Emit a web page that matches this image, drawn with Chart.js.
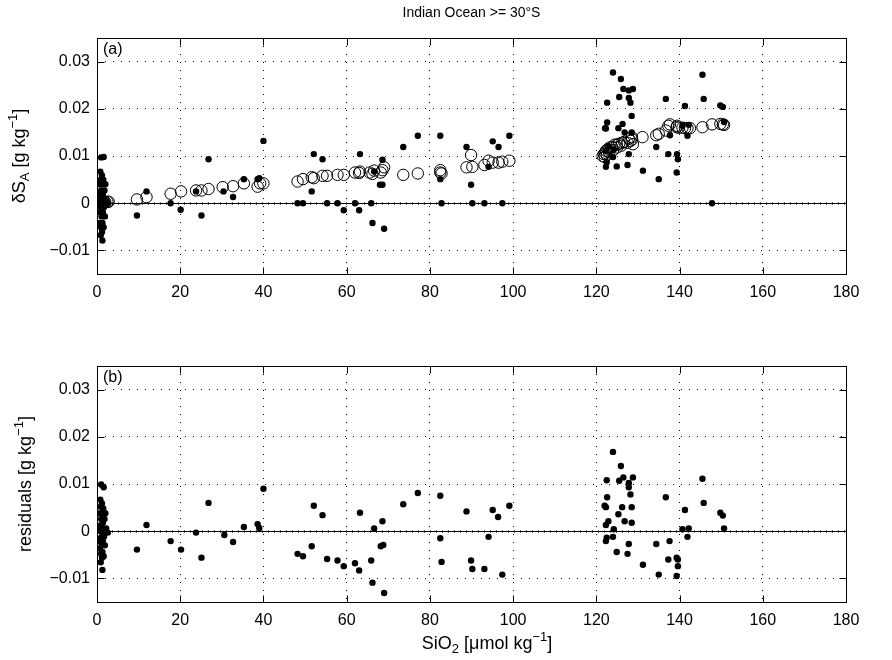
<!DOCTYPE html>
<html><head><meta charset="utf-8">
<script src="https://cdn.jsdelivr.net/npm/chart.js@4.4.1/dist/chart.umd.min.js"></script>
<style>
html,body{margin:0;padding:0;background:#fff;}
#wrap{position:relative;width:892px;height:660px;background:#fff;}
canvas{position:absolute;left:0;}
</style></head><body>
<div id="wrap">
<canvas id="c1" width="892" height="310" style="top:0px"></canvas>
<canvas id="c2" width="892" height="350" style="top:310px"></canvas>
</div>
<script>
// ---------- data ----------
const xTicks = [0, 20, 40, 60, 80, 100, 120, 140, 160, 180];
const yTicks = [-0.01, 0, 0.01, 0.02, 0.03];
const titleText = "Indian Ocean >= 30°S";

// measured δSA (filled dots, panel a)
const measX = [1.0,1.6,0.8,1.2,0.9,1.5,0.7,1.3,2.0,1.0,1.8,0.8,1.4,1.1,2.2,0.6,1.2,1.9,2.6,1.0,1.7,0.8,1.4,1.1,1.9,0.7,1.3,1.0,1.6,1.2,0.9,1.3,
  9.6,11.9,17.7,20.1,23.8,25.1,26.8,30.4,32.7,35.3,38.6,39.0,40.0,48.2,49.5,51.6,52.1,54.2,55.3,57.8,59.3,62.0,63.2,63.0,65.9,66.2,66.6,68.0,68.6,68.6,69.0,73.6,77.1,82.5,82.8,82.5,88.8,89.9,90.2,93.1,94.1,95.1,96.5,97.4,99.1,
  124.0,125.9,126.5,127.8,128.8,122.6,125.5,127.8,128.2,128.5,122.6,122.1,122.3,125.3,126.3,128.5,122.3,124.9,127.5,127.8,131.2,134.4,135.0,136.7,137.3,137.7,139.4,139.6,139.3,141.3,141.9,145.5,145.8,149.8,150.4,147.8,
  122.3,124.2,122.9,126.8,122.5,124.0,140.7,142.2,150.7];
const measY = [0.0097,0.0098,0.0067,0.0059,0.0050,0.0050,0.0040,0.0040,0.0040,0.0027,0.0027,0.0018,0.0018,0.0009,0.0009,0,0,0,0,-0.0008,-0.0008,-0.0019,-0.0019,-0.0028,-0.0028,-0.0042,-0.0042,-0.0051,-0.0051,-0.0061,-0.0068,-0.0079,
  -0.0026,0.0025,0,-0.0014,0.0025,-0.0026,0.0093,0.0025,0.0013,0.0051,0.0051,0.0053,0.0132,0,0,0.0025,0.0104,0.0093,0,0,-0.0015,0,0.0104,-0.0015,0,-0.0042,0.0067,0.0039,0.0039,0.0092,-0.0054,0.0119,0.0143,0.0143,0,0.0051,0.0119,0.0039,0,0,0.0077,0.0131,0.0119,0,0.0143,
  0.0277,0.0263,0.0242,0.0239,0.0242,0.0213,0.0225,0.0223,0.0213,0.0185,0.0171,0.0159,0.0158,0.0159,0.0168,0.0150,0.0077,0.0078,0.0081,0.0104,0.0069,0.0119,0.0051,0.0221,0.0104,0.0144,0.0104,0.0093,0.0065,0.0206,0.0143,0.0272,0.0221,0.0207,0.0204,0,
  0.0111,0.0114,0.0121,0.0150,0.0087,0.0098,0.0164,0.0166,0.0172];

// fitted δSA (open circles, panel a)
const fitX = [0.3,0.5,0.8,1.0,1.2,1.5,1.8,2.0,2.5,2.8,
  9.6,11.9,17.7,20.2,23.8,25.1,26.8,30.2,32.7,35.3,38.6,39.2,40.0,48.2,49.5,51.6,52.1,54.2,55.3,57.8,59.3,62.0,63.2,63.0,65.5,66.2,66.6,68.2,68.6,69.0,73.6,77.1,82.5,82.5,82.8,88.8,89.9,90.2,93.1,94.1,95.1,96.5,97.4,99.1,
  121.5,121.8,122.1,122.3,122.7,123.2,123.8,124.4,124.9,125.5,126.2,126.7,127.5,128.2,128.6,128.8,122.0,122.5,123.0,124.0,125.0,126.0,127.8,128.5,131.1,134.4,135.0,136.7,137.3,137.7,139.3,139.4,139.8,140.7,141.3,141.9,142.5,145.5,147.8,149.8,150.4,150.7];
const fitY = [0,0.0001,0.0002,0.0002,0,0.0001,0.0001,0.0002,0.0003,0.0003,
  0.0008,0.0013,0.0020,0.0025,0.0027,0.0027,0.0030,0.0034,0.0036,0.0042,0.0035,0.0042,0.0042,0.0046,0.0051,0.0055,0.0053,0.0058,0.0058,0.0060,0.0060,0.0065,0.0067,0.0064,0.0065,0.0062,0.0069,0.0065,0.0070,0.0076,0.0060,0.0063,0.0070,0.0065,0.0063,0.0076,0.0102,0.0077,0.0081,0.0090,0.0086,0.0086,0.0088,0.0090,
  0.0100,0.0104,0.0107,0.0111,0.0114,0.0118,0.0119,0.0124,0.0124,0.0126,0.0128,0.0130,0.0128,0.0132,0.0135,0.0125,0.0098,0.0102,0.0108,0.0112,0.0118,0.0122,0.0137,0.0140,0.0140,0.0144,0.0147,0.0154,0.0164,0.0167,0.0161,0.0164,0.0160,0.0160,0.0159,0.0159,0.0159,0.0161,0.0167,0.0168,0.0167,0.0166];

// residuals (filled dots, panel b)
const resX = [1.0,1.6,0.8,1.2,0.9,1.5,0.7,1.3,2.0,1.0,1.8,0.8,1.4,1.1,2.2,0.6,1.2,1.9,2.6,1.0,1.7,0.8,1.4,1.1,1.9,0.7,1.3,1.0,1.6,1.2,0.9,1.3,
  9.6,11.9,17.7,20.2,23.8,25.1,26.8,30.6,32.7,35.3,38.6,39.0,40.0,48.2,49.5,51.6,52.1,54.2,55.3,57.8,59.3,62.0,63.2,63.0,65.9,66.2,66.6,68.2,68.8,68.6,69.0,73.6,77.1,82.5,82.5,82.8,88.8,89.9,90.2,93.1,94.1,95.1,96.4,97.4,99.1,
  124.0,125.9,122.5,126.5,125.5,128.8,127.8,127.8,128.2,122.6,122.0,122.3,126.2,128.5,125.3,122.9,126.8,128.5,122.3,124.2,122.5,122.3,124.0,127.8,124.9,127.5,131.2,134.4,135.0,136.7,137.6,137.3,139.3,139.6,139.6,139.3,141.3,140.7,142.2,141.9,145.5,145.8,149.8,150.4,150.7];
const resY = [0.0099,0.0093,0.0067,0.0059,0.0052,0.0048,0.0038,0.0038,0.0038,0.0026,0.0026,0.0012,0.0018,0.0009,0.0006,0.0001,-0.0002,-0.0001,-0.0003,-0.0013,-0.0011,-0.0021,-0.0020,-0.0027,-0.0030,-0.0037,-0.0044,-0.0048,-0.0053,-0.0056,-0.0066,-0.0082,
  -0.0039,0.0013,-0.0021,-0.0039,-0.0003,-0.0056,0.0060,-0.0008,-0.0023,0.0009,0.0015,0.0007,0.0090,-0.0048,-0.0053,-0.0032,0.0054,0.0034,-0.0059,-0.0062,-0.0074,-0.0068,0.0039,-0.0083,-0.0062,-0.0109,0.0006,-0.0032,-0.0029,0.0021,-0.0131,0.0057,0.0081,0.0075,-0.0015,-0.0065,0.0042,-0.0062,-0.0080,-0.0080,-0.0012,0.0045,0.0030,-0.0092,0.0054,
  0.0168,0.0138,0.0108,0.0114,0.0107,0.0114,0.0102,0.0093,0.0078,0.0072,0.0054,0.0051,0.0051,0.0051,0.0036,0.0021,0.0021,0.0018,0.0013,0.0004,-0.0014,-0.0021,-0.0012,-0.0027,-0.0044,-0.0048,-0.0071,-0.0027,-0.0092,0.0072,-0.0021,-0.0060,-0.0056,-0.0060,-0.0074,-0.0095,0.0045,0.0004,0.0006,-0.0012,0.0111,0.0060,0.0039,0.0033,0.0006];

// ---------- helpers ----------
const FONT = '"Liberation Sans", Arial, Helvetica, sans-serif';
const TICK_SIZE = 16, LABEL_SIZE = 18, PANEL_SIZE = 16, TITLE_SIZE = 14;
const pts = (xs, ys) => xs.map((x, i) => ({x: x, y: ys[i]}));

function drawRich(ctx, parts, x, y, size, rotate) {
  ctx.save();
  ctx.translate(x, y);
  if (rotate) ctx.rotate(-Math.PI / 2);
  const fontFor = p => (p.s ? Math.round(size * 0.72) : size) + 'px ' + FONT;
  let w = 0;
  parts.forEach(p => { ctx.font = fontFor(p); p.w = ctx.measureText(p.t).width; w += p.w; });
  let cx = -w / 2;
  ctx.textBaseline = 'middle';
  ctx.textAlign = 'left';
  ctx.fillStyle = '#000';
  parts.forEach(p => {
    ctx.font = fontFor(p);
    const dy = p.s === 'sub' ? size * 0.32 : (p.s === 'sup' ? -size * 0.38 : 0);
    ctx.fillText(p.t, cx, dy);
    cx += p.w;
  });
  ctx.restore();
}

function framePlugin(cfg) {
  return {
    id: 'frame' + cfg.id,
    beforeDatasetsDraw(chart) {
      const {ctx, chartArea: a, scales: {y}} = chart;
      const y0 = Math.round(y.getPixelForValue(0)) + 0.5;
      ctx.save();
      ctx.strokeStyle = '#000';
      ctx.lineWidth = 1;
      ctx.beginPath();
      ctx.moveTo(a.left, y0); ctx.lineTo(a.right, y0);
      ctx.stroke();
      ctx.strokeStyle = 'rgba(0,0,0,0.6)';
      ctx.beginPath();
      for (let px = a.left + 3; px < a.right; px += 6) {
        ctx.moveTo(Math.round(px) + 0.5, y0 - 1.5); ctx.lineTo(Math.round(px) + 0.5, y0 + 1.5);
      }
      ctx.stroke();
      ctx.restore();
    },
    afterDraw(chart) {
      const {ctx, chartArea: a, scales: {x, y}} = chart;
      ctx.save();
      ctx.strokeStyle = '#000';
      ctx.lineWidth = 1;
      const L = Math.round(a.left) + 0.5, R = Math.round(a.right) + 0.5;
      const T = Math.round(a.top) + 0.5, B = Math.round(a.bottom) + 0.5;
      ctx.strokeRect(L, T, R - L, B - T);
      const tl = 7;
      ctx.beginPath();
      xTicks.forEach(v => {
        const px = Math.round(x.getPixelForValue(v)) + 0.5;
        ctx.moveTo(px, B); ctx.lineTo(px, B - tl);
        ctx.moveTo(px, T); ctx.lineTo(px, T + tl);
      });
      yTicks.forEach(v => {
        const py = Math.round(y.getPixelForValue(v)) + 0.5;
        ctx.moveTo(L, py); ctx.lineTo(L + tl, py);
        ctx.moveTo(R, py); ctx.lineTo(R - tl, py);
      });
      ctx.stroke();
      // panel label
      ctx.fillStyle = '#000';
      ctx.font = PANEL_SIZE + 'px ' + FONT;
      ctx.textAlign = 'left';
      ctx.textBaseline = 'middle';
      ctx.fillText(cfg.panel, a.left + 6, a.top + 12);
      ctx.restore();
      drawRich(ctx, cfg.ylabel, cfg.ylabelX, (a.top + a.bottom) / 2, LABEL_SIZE, true);
      if (cfg.xlabel) drawRich(ctx, cfg.xlabel, cfg.xlabelX, cfg.xlabelY, LABEL_SIZE, false);
      if (cfg.title) {
        ctx.save();
        ctx.fillStyle = '#000';
        ctx.font = TITLE_SIZE + 'px ' + FONT;
        ctx.textAlign = 'center';
        ctx.textBaseline = 'middle';
        ctx.fillText(cfg.title, (a.left + a.right) / 2, 13);
        ctx.restore();
      }
    }
  };
}

function yFmt(v) {
  if (Math.abs(v) < 1e-12) return '0';
  return (v < 0 ? '\u2212' : '') + Math.abs(v).toFixed(2);
}

function makeChart(id, datasets, padTop, xAxisH, cfg) {
  return new Chart(document.getElementById(id), {
    type: 'scatter',
    data: {datasets: datasets},
    options: {
      responsive: false,
      animation: false,
      events: [],
      layout: {padding: {top: padTop, right: 46, left: 0, bottom: 0}},
      plugins: {legend: {display: false}, tooltip: {enabled: false}, title: {display: false}},
      scales: {
        x: {
          type: 'linear', min: 0, max: 180, position: 'bottom',
          afterBuildTicks: s => { s.ticks = xTicks.map(v => ({value: v})); },
          afterFit: s => { s.height = xAxisH; },
          ticks: {color: '#000', font: {family: FONT, size: TICK_SIZE}, padding: 9, maxRotation: 0, autoSkip: false,
                  callback: v => String(v)},
          grid: {color: '#000', lineWidth: 1, drawTicks: false},
          border: {display: false, dash: [1, 7]}
        },
        y: {
          type: 'linear', min: -0.015, max: 0.035,
          afterBuildTicks: s => { s.ticks = yTicks.map(v => ({value: v})); },
          afterFit: s => { s.width = 97; },
          ticks: {color: '#000', font: {family: FONT, size: TICK_SIZE}, padding: 7, autoSkip: false, callback: v => yFmt(v)},
          grid: {color: '#000', lineWidth: 1, drawTicks: false},
          border: {display: false, dash: [1, 7]}
        }
      }
    },
    plugins: [framePlugin(cfg)]
  });
}

const dotStyle = {pointRadius: 3.2, pointBackgroundColor: '#000', pointBorderColor: '#000', pointBorderWidth: 0, showLine: false};
const ringStyle = {pointRadius: 5.7, pointBackgroundColor: 'rgba(0,0,0,0)', pointBorderColor: '#000', pointBorderWidth: 1, showLine: false};

makeChart('c1', [
  Object.assign({label: 'measured', data: pts(measX, measY)}, dotStyle),
  Object.assign({label: 'fit', data: pts(fitX, fitY)}, ringStyle)
], 38, 36, {
  id: 'a', panel: '(a)', title: titleText, ylabelX: 20,
  ylabel: [{t: '\u03B4S'}, {t: 'A', s: 'sub'}, {t: ' [g kg'}, {t: '\u22121', s: 'sup'}, {t: ']'}]
});

makeChart('c2', [
  Object.assign({label: 'residuals', data: pts(resX, resY)}, dotStyle)
], 56, 58, {
  id: 'b', panel: '(b)', ylabelX: 26,
  ylabel: [{t: 'residuals [g kg'}, {t: '\u22121', s: 'sup'}, {t: ']'}],
  xlabel: [{t: 'SiO'}, {t: '2', s: 'sub'}, {t: ' [\u03BCmol kg'}, {t: '\u22121', s: 'sup'}, {t: ']'}],
  xlabelX: 487, xlabelY: 334
});
</script>
</body></html>
